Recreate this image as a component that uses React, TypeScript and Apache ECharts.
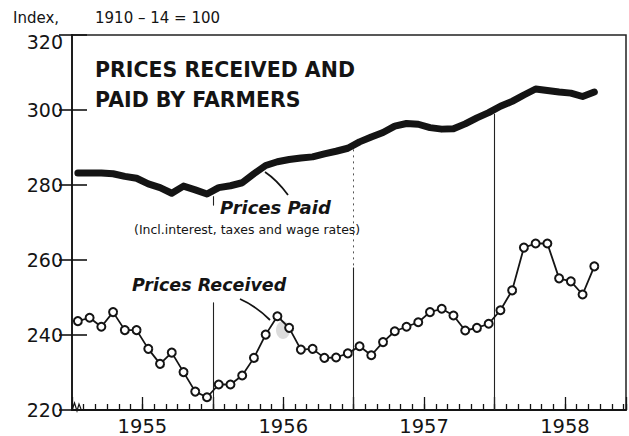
import React, { useEffect, useRef } from 'react';
import * as echarts from 'echarts';

// ---- data ----
const yearLabels = ['1955', '1956', '1957', '1958'];
const monthNames = ['Jan', 'Feb', 'Mar', 'Apr', 'May', 'Jun', 'Jul', 'Aug', 'Sep', 'Oct', 'Nov', 'Dec'];
// months Jan 1955 .. Sep 1958
const months: string[] = [];
yearLabels.forEach((y) => monthNames.forEach((m) => months.push(m + ' ' + y)));
const monthsShown = months.slice(0, 45);

const paidValues = [
  283.2, 283.2, 283.2, 283.0, 282.3, 281.8, 280.3, 279.3, 277.8, 279.7, 278.7, 277.6,
  279.3, 279.8, 280.6, 283.0, 285.2, 286.2, 286.8, 287.2, 287.5, 288.3, 289.0, 289.8,
  291.5, 292.8, 294.0, 295.7, 296.4, 296.2, 295.3, 294.9, 295.0, 296.3, 297.9, 299.3,
  301.0, 302.3, 304.0, 305.6, 305.2, 304.8, 304.5, 303.6, 304.8,
];
const receivedValues = [
  243.7, 244.6, 242.2, 246.1, 241.3, 241.3, 236.3, 232.3, 235.3, 230.1, 224.9, 223.4,
  226.8, 226.8, 229.2, 233.9, 240.1, 245.0, 241.9, 236.1, 236.3, 233.9, 234.0, 235.1,
  237.0, 234.6, 238.1, 241.0, 242.2, 243.4, 246.1, 247.0, 245.2, 241.2, 241.9, 243.0,
  246.6, 251.9, 263.3, 264.4, 264.4, 255.1, 254.3, 250.8, 258.3,
];
const yTicks = [220, 240, 260, 280, 300, 320];

const FONT = 'DejaVu Sans';
const INK = '#141414';

export default function App() {
  const ref = useRef<HTMLDivElement>(null);
  useEffect(() => {
    document.body.style.margin = '0';
    if (!ref.current) return;
    const chart = echarts.init(ref.current, undefined, { renderer: 'svg' });
    const toXY = (vals: number[]) => vals.map((v, i) => [i + 0.5, v, monthsShown[i]]);
    const option: any = {
      animation: false,
      backgroundColor: '#ffffff',
      grid: {
        left: 72, top: 35, width: 555, height: 375,
        show: true, borderColor: '#222', borderWidth: 1.5, backgroundColor: 'transparent',
      },
      xAxis: [
        {
          type: 'value', min: 0, max: 47.2, interval: 1, position: 'bottom',
          axisLine: { show: true, lineStyle: { color: INK, width: 2 } },
          axisTick: { show: true, inside: true, length: 6, lineStyle: { color: INK, width: 1.3 } },
          axisLabel: { show: false },
          splitLine: { show: false },
        },
        {
          type: 'value', min: 0, max: 47.2, interval: 6, position: 'bottom',
          axisLine: { show: false },
          axisTick: { show: true, inside: true, length: 13, lineStyle: { color: INK, width: 1.3 } },
          axisLabel: {
            show: true, margin: 6, fontSize: 19.5, color: INK, fontFamily: FONT,
            formatter: (v: number) => {
              const k = Math.round(v);
              if (Math.abs(v - k) > 1e-6 || k % 12 !== 6) return '';
              return yearLabels[(k - 6) / 12] ?? '';
            },
          },
          splitLine: { show: false },
        },
      ],
      yAxis: [
        {
          type: 'value', min: yTicks[0], max: yTicks[yTicks.length - 1], interval: 20, position: 'left',
          axisLine: { show: true, lineStyle: { color: INK, width: 2 } },
          axisTick: { show: true, inside: true, length: 15, lineStyle: { color: INK, width: 1.6 } },
          axisLabel: {
            margin: 9, fontSize: 19, color: INK, fontFamily: FONT,
            formatter: (v: number) => (v === 320 ? '{top|320}' : String(v)),
            rich: { top: { fontSize: 19, color: INK, fontFamily: FONT, padding: [14, 0, 0, 0] } },
          },
          splitLine: { show: false },
        },
        {
          type: 'value', min: yTicks[0], max: yTicks[yTicks.length - 1], interval: 20, position: 'right',
          axisLine: { show: true, lineStyle: { color: '#222', width: 1.5 } },
          axisTick: { show: true, inside: true, length: 13, lineStyle: { color: INK, width: 1.6 } },
          axisLabel: { show: false },
          splitLine: { show: false },
        },
      ],
      series: [
        {
          name: 'Prices Paid', type: 'line', xAxisIndex: 0, yAxisIndex: 0,
          data: toXY(paidValues), symbol: 'none', z: 4,
          lineStyle: { color: INK, width: 7, cap: 'round', join: 'round' },
        },
        {
          name: 'Prices Received', type: 'line', xAxisIndex: 0, yAxisIndex: 0,
          data: toXY(receivedValues), symbol: 'circle', symbolSize: 8, z: 5,
          itemStyle: { color: '#fff', borderColor: INK, borderWidth: 2 },
          lineStyle: { color: INK, width: 1.8 },
          markLine: {
            silent: true, symbol: ['none', 'none'], label: { show: false },
            lineStyle: { color: '#222', width: 1.1, type: 'solid' },
            data: [
              [{ coord: [12, 248.7] }, { coord: [12, 220] }],
              [{ coord: [12, 277] }, { coord: [12, 274.5] }],
              [{ coord: [24, 289.5], lineStyle: { type: [2, 4], color: '#555', width: 1 } }, { coord: [24, 258] }],
              [{ coord: [24, 258] }, { coord: [24, 220] }],
              [{ coord: [36, 299] }, { coord: [36, 220] }],
            ],
          },
        },
      ],
      graphic: [
        { type: 'text', x: 13, y: 18, z: 10, style: { text: 'Index,', fontSize: 15, fontFamily: FONT, fill: INK, verticalAlign: 'middle' } },
        { type: 'text', x: 95, y: 18, z: 10, style: { text: '1910 – 14 = 100', fontSize: 15, fontFamily: FONT, fill: INK, verticalAlign: 'middle' } },
        { type: 'text', x: 95, y: 70, z: 10, style: { text: 'PRICES RECEIVED AND', fontSize: 20.5, fontWeight: 'bold', fontFamily: FONT, fill: INK, verticalAlign: 'middle' } },
        { type: 'text', x: 95, y: 100, z: 10, style: { text: 'PAID BY FARMERS', fontSize: 20.5, fontWeight: 'bold', fontFamily: FONT, fill: INK, verticalAlign: 'middle' } },
        { type: 'text', x: 220, y: 207, z: 10, style: { text: 'Prices Paid', fontSize: 18, fontWeight: 'bold', fontStyle: 'italic', fontFamily: FONT, fill: INK, verticalAlign: 'middle' } },
        { type: 'text', x: 134, y: 229, z: 10, style: { text: '(Incl.interest, taxes and wage rates)', fontSize: 12.5, fontFamily: FONT, fill: INK, verticalAlign: 'middle' } },
        { type: 'text', x: 132, y: 285, z: 10, style: { text: 'Prices Received', fontSize: 17.5, fontWeight: 'bold', fontStyle: 'italic', fontFamily: FONT, fill: INK, verticalAlign: 'middle' } },
        { type: 'bezierCurve', z: 10, shape: { x1: 265, y1: 172, cpx1: 277, cpy1: 180, x2: 288, y2: 195 }, style: { stroke: INK, lineWidth: 1.8, fill: 'none' } },
        { type: 'bezierCurve', z: 10, shape: { x1: 240, y1: 299, cpx1: 256, cpy1: 306, x2: 270, y2: 320 }, style: { stroke: INK, lineWidth: 1.8, fill: 'none' } },
        { type: 'ellipse', z: 3, shape: { cx: 283, cy: 330, rx: 7, ry: 9 }, style: { fill: '#c4c4c4', opacity: 0.6 } },
        { type: 'polyline', z: 10, shape: { points: [[72, 410], [74.5, 403], [77, 411], [79, 404], [81, 409]] }, style: { stroke: INK, lineWidth: 1.2, fill: 'none' } },
      ],
    };
    chart.setOption(option);
    return () => chart.dispose();
  }, []);
  return <div ref={ref} style={{ width: 629, height: 436 }} />;
}
